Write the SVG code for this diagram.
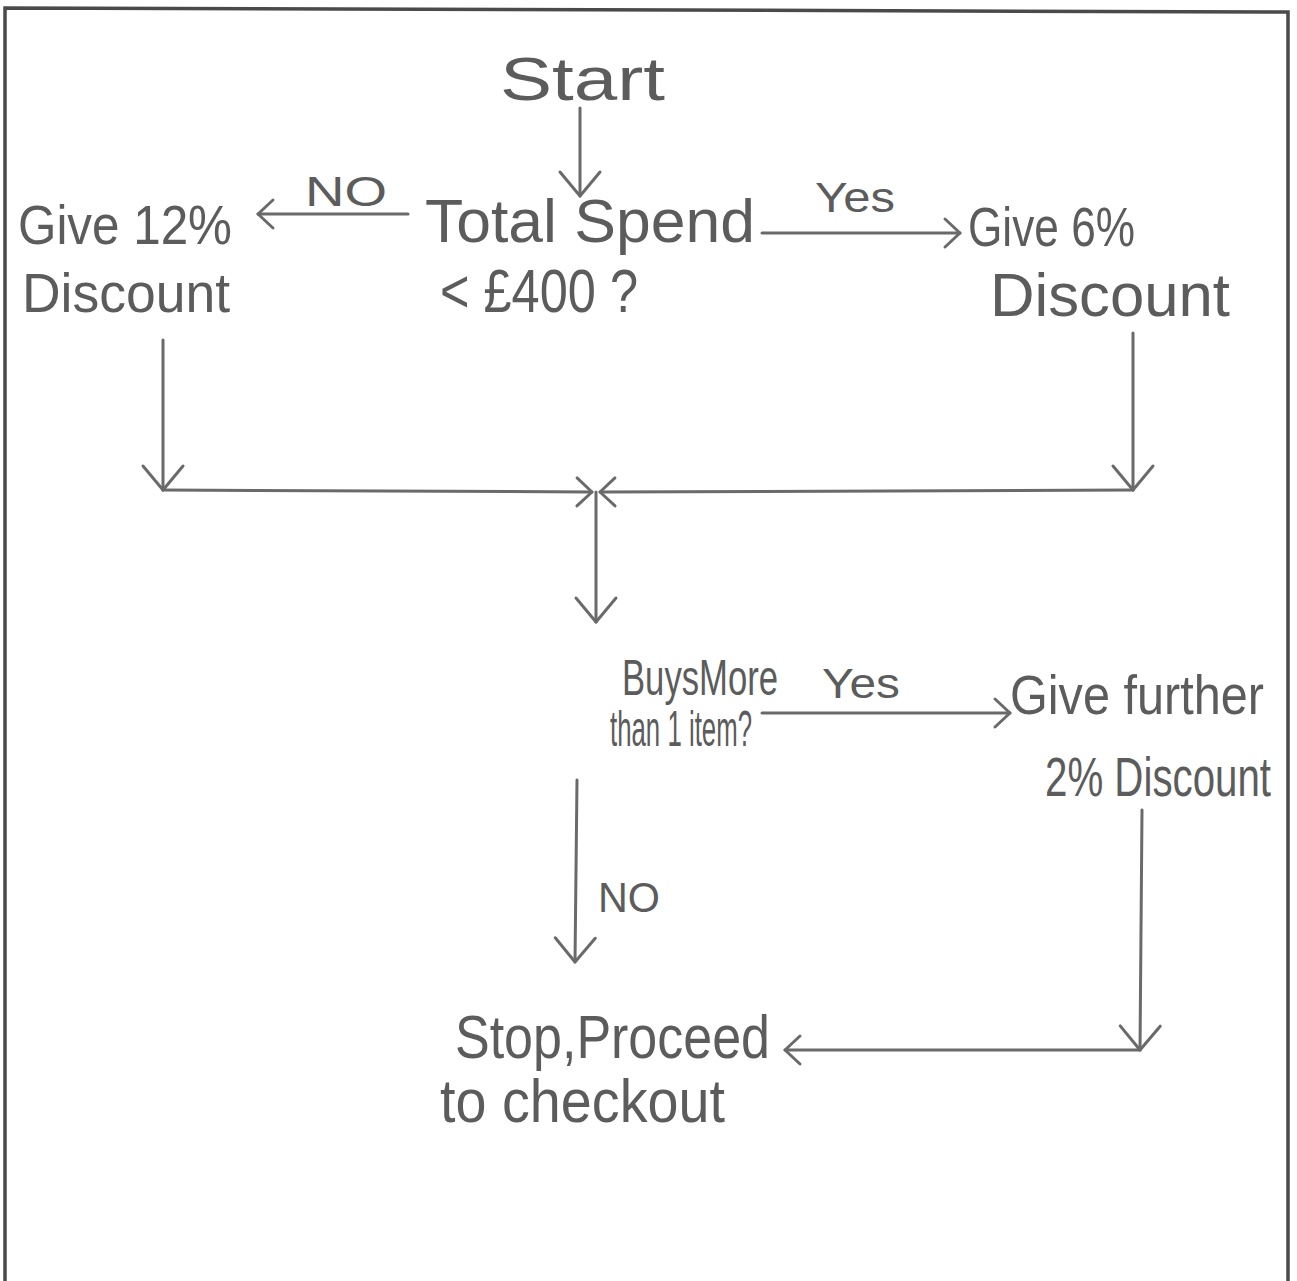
<svg xmlns="http://www.w3.org/2000/svg" width="1297" height="1281" viewBox="0 0 1297 1281">
  <style>
    .hand { font-family: "Liberation Sans", "DejaVu Sans", sans-serif; fill: #5c5c5c; }
    .big { font-size: 62px; }
    .mid { font-size: 56px; }
    .sm { font-size: 50px; }
    .lbl { font-size: 42px; }
    .wire { fill: none; stroke: #6a6a6a; stroke-width: 3; stroke-linecap: round; stroke-linejoin: round; }
    .frame { fill: none; stroke: #4a4a4a; stroke-width: 3.5; }
  </style>
  <defs>
    <marker id="head" viewBox="-28 -24 32 48" markerWidth="32" markerHeight="48" refX="0" refY="0" markerUnits="userSpaceOnUse" orient="auto">
      <path d="M-24,-20 L0,0 L-24,20" fill="none" stroke="#6a6a6a" stroke-width="3" stroke-linecap="round" stroke-linejoin="round"/>
    </marker>
    <marker id="headSmall" viewBox="-20 -18 24 36" markerWidth="24" markerHeight="36" refX="0" refY="0" markerUnits="userSpaceOnUse" orient="auto">
      <path d="M-15,-14 L0,0 L-15,14" fill="none" stroke="#6a6a6a" stroke-width="3" stroke-linecap="round" stroke-linejoin="round"/>
    </marker>
  </defs>

  <rect x="0" y="0" width="1297" height="1281" fill="#ffffff"/>

  <!-- page frame: top, left and right edges -->
  <g id="frame">
    <path class="frame" d="M5,1281 L5,8 L1288,12 L1288,1281"/>
  </g>

  <!-- connectors -->
  <g id="connectors">
    <line class="wire" x1="580" y1="108" x2="580" y2="196" marker-end="url(#head)"/>
    <line class="wire" x1="408" y1="214" x2="258" y2="214" marker-end="url(#headSmall)"/>
    <line class="wire" x1="762" y1="233" x2="960" y2="233" marker-end="url(#headSmall)"/>
    <line class="wire" x1="163" y1="340" x2="163" y2="490" marker-end="url(#head)"/>
    <line class="wire" x1="1133" y1="333" x2="1133" y2="490" marker-end="url(#head)"/>
    <line class="wire" x1="163" y1="490" x2="592" y2="492" marker-end="url(#headSmall)"/>
    <line class="wire" x1="1133" y1="490" x2="600" y2="492" marker-end="url(#headSmall)"/>
    <line class="wire" x1="596" y1="492" x2="596" y2="622" marker-end="url(#head)"/>
    <line class="wire" x1="762" y1="713" x2="1010" y2="713" marker-end="url(#headSmall)"/>
    <line class="wire" x1="577" y1="780" x2="575" y2="962" marker-end="url(#head)"/>
    <line class="wire" x1="1142" y1="810" x2="1140" y2="1050" marker-end="url(#head)"/>
    <line class="wire" x1="1140" y1="1050" x2="785" y2="1050" marker-end="url(#headSmall)"/>
    <text class="hand lbl" x="305" y="206" textLength="82" lengthAdjust="spacingAndGlyphs">NO</text>
    <text class="hand lbl" x="815" y="212" textLength="80" lengthAdjust="spacingAndGlyphs">Yes</text>
    <text class="hand lbl" x="822" y="698" textLength="78" lengthAdjust="spacingAndGlyphs">Yes</text>
    <text class="hand lbl" x="598" y="912" textLength="62" lengthAdjust="spacingAndGlyphs">NO</text>
  </g>

  <g id="start">
    <text class="hand big" x="500" y="100" textLength="165" lengthAdjust="spacingAndGlyphs">Start</text>
  </g>

  <g id="total-spend">
    <text class="hand big" x="425" y="242" textLength="330" lengthAdjust="spacingAndGlyphs">Total Spend</text>
    <text class="hand big" x="440" y="312" textLength="198" lengthAdjust="spacingAndGlyphs">&lt; £400 ?</text>
  </g>

  <g id="give-12">
    <text class="hand mid" x="18" y="244" textLength="214" lengthAdjust="spacingAndGlyphs">Give 12%</text>
    <text class="hand mid" x="22" y="312" textLength="208" lengthAdjust="spacingAndGlyphs">Discount</text>
  </g>

  <g id="give-6">
    <text class="hand mid" x="968" y="246" textLength="167" lengthAdjust="spacingAndGlyphs">Give 6%</text>
    <text class="hand big" x="990" y="316" textLength="240" lengthAdjust="spacingAndGlyphs">Discount</text>
  </g>

  <g id="buys-more">
    <text class="hand sm" x="622" y="695" textLength="156" lengthAdjust="spacingAndGlyphs">BuysMore</text>
    <text class="hand sm" x="610" y="746" textLength="142" lengthAdjust="spacingAndGlyphs">than 1 item?</text>
  </g>

  <g id="give-further">
    <text class="hand mid" x="1010" y="714" textLength="254" lengthAdjust="spacingAndGlyphs">Give further</text>
    <text class="hand mid" x="1045" y="796" textLength="226" lengthAdjust="spacingAndGlyphs">2% Discount</text>
  </g>

  <g id="stop-checkout">
    <text class="hand big" x="455" y="1058" textLength="315" lengthAdjust="spacingAndGlyphs">Stop,Proceed</text>
    <text class="hand big" x="440" y="1122" textLength="285" lengthAdjust="spacingAndGlyphs">to checkout</text>
  </g>
</svg>
